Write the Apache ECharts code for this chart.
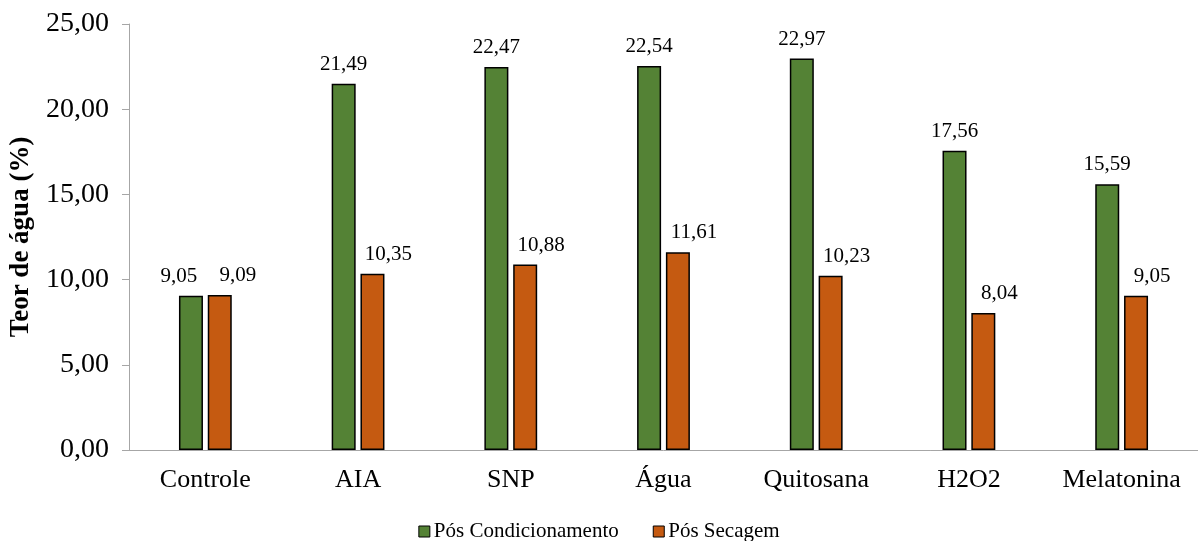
<!DOCTYPE html>
<html>
<head>
<meta charset="utf-8">
<script src="https://cdn.jsdelivr.net/npm/echarts@6/dist/echarts.min.js"></script>
<style>
  html, body { margin: 0; padding: 0; background: #ffffff; }
  #chart { width: 1198px; height: 541px; }
</style>
</head>
<body>
<div id="chart"></div>
<script>
// Treatments on the category axis
const categories = ['Controle', 'AIA', 'SNP', 'Água', 'Quitosana', 'H2O2', 'Melatonina'];
// Water content (%) after conditioning and after drying
const posCondicionamento = [9.05, 21.49, 22.47, 22.54, 22.97, 17.56, 15.59];
const posSecagem = [9.09, 10.35, 10.88, 11.61, 10.23, 8.04, 9.05];
const seriesNames = ['Pós Condicionamento', 'Pós Secagem'];
const yTicks = [0, 5, 10, 15, 20, 25];

const FONT = "'Liberation Serif', 'Times New Roman', serif";
const fmt = v => v.toFixed(2).replace('.', ',');

const chart = echarts.init(document.getElementById('chart'));

// Green labels sit centred; the first one moves left so it clears its neighbour
const greenData = posCondicionamento.map((v, i) => ({
  value: v,
  label: i === 0 ? { offset: [-12, 0] } : {}
}));
const orangeData = posSecagem.map((v, i) => ({
  value: v,
  label: { offset: [i === 0 ? 18 : 16, 0] }
}));

const labelStyle = {
  show: true,
  position: 'top',
  distance: 9,
  fontFamily: FONT,
  fontSize: 21,
  color: '#000',
  formatter: p => fmt(p.value)
};

chart.setOption({
  animation: false,
  backgroundColor: '#ffffff',
  grid: { left: 128, right: 0, top: 24, bottom: 91 },
  legend: {
    top: 516,
    left: 'center',
    itemWidth: 11,
    itemHeight: 11,
    itemGap: 34,
    icon: 'rect',
    textStyle: { fontFamily: FONT, fontSize: 21, color: '#000', padding: [0, 0, 0, -1] },
    data: seriesNames.map(n => ({ name: n, itemStyle: { borderColor: '#000', borderWidth: 1 } }))
  },
  xAxis: {
    type: 'category',
    data: categories,
    axisLine: { lineStyle: { color: '#a6a6a6', width: 1 } },
    axisTick: { show: false },
    axisLabel: { interval: 0, fontFamily: FONT, fontSize: 26, color: '#000', margin: 17 }
  },
  yAxis: {
    type: 'value',
    min: yTicks[0],
    max: yTicks[yTicks.length - 1],
    interval: 5,
    name: 'Teor de água (%)',
    nameLocation: 'middle',
    nameGap: 94,
    nameTextStyle: { fontFamily: FONT, fontSize: 27, fontWeight: 'bold', color: '#000' },
    axisLine: { show: true, lineStyle: { color: '#a6a6a6', width: 1 } },
    axisTick: { show: true, length: 7, lineStyle: { color: '#a6a6a6' } },
    splitLine: { show: false },
    axisLabel: { fontFamily: FONT, fontSize: 28, color: '#000', margin: 20, formatter: v => fmt(v) }
  },
  series: [
    {
      name: seriesNames[0],
      type: 'bar',
      data: greenData,
      barWidth: 24,
      barGap: '20%',
      itemStyle: { color: '#548235', borderColor: '#000', borderWidth: 1.5 },
      label: labelStyle
    },
    {
      name: seriesNames[1],
      type: 'bar',
      data: orangeData,
      barWidth: 24,
      itemStyle: { color: '#c55a11', borderColor: '#000', borderWidth: 1.5 },
      label: labelStyle
    }
  ]
});
</script>
</body>
</html>
